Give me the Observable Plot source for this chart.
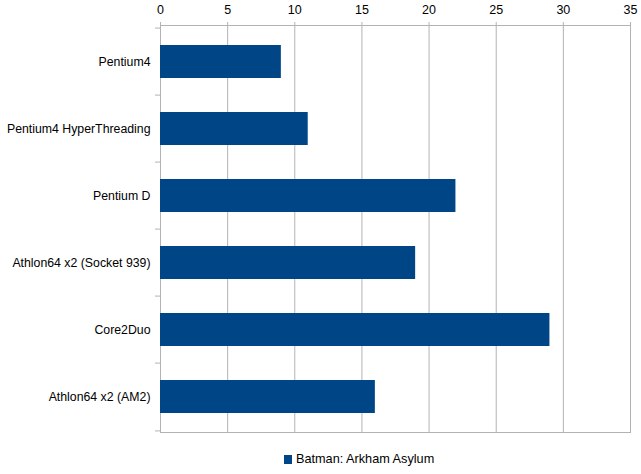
<!DOCTYPE html>
<html>
<head>
<meta charset="utf-8">
<script src="https://cdn.jsdelivr.net/npm/d3@7"></script>
<script src="https://cdn.jsdelivr.net/npm/@observablehq/plot@0.6"></script>
<style>
  body { margin: 0; background: #fff; font-family: "Liberation Sans", Arial, sans-serif; }
  #wrap { position: relative; width: 641px; height: 474px; }
  #legend { position: absolute; left: 284px; top: 452px; font-size: 12.7px; color: #000; display: flex; align-items: center; white-space: nowrap; }
  #legend .sw { width: 8px; height: 9px; background: #004586; margin-right: 4px; }
</style>
</head>
<body>
<div id="wrap"><div id="chart"></div><div id="legend"><span class="sw"></span><span>Batman: Arkham Asylum</span></div></div>
<script>
const categories = ["Pentium4", "Pentium4 HyperThreading", "Pentium D", "Athlon64 x2 (Socket 939)", "Core2Duo", "Athlon64 x2 (AM2)"];
const values = [9, 11, 22, 19, 29, 16];
const xTicks = [0, 5, 10, 15, 20, 25, 30, 35];
const seriesName = "Batman: Arkham Asylum";

const data = categories.map((c, i) => ({category: c, value: values[i]}));
const height = 440, marginTop = 25, marginBottom = 8;
const bw = (height - marginTop - marginBottom) / categories.length;
const gray = "#b3b3b3";

const chart = Plot.plot({
  width: 641,
  height,
  marginTop,
  marginBottom,
  marginLeft: 160,
  marginRight: 11,
  style: {fontFamily: "Liberation Sans, Arial, sans-serif", fontSize: "12px", color: "#000", background: "#fff"},
  x: {domain: [0, 35], axis: null},
  y: {domain: categories, padding: 0, axis: null},
  marks: [
    Plot.gridX(xTicks, {stroke: gray, strokeOpacity: 1, strokeWidth: 1}),
    Plot.axisX(xTicks, {anchor: "top", label: null, tickSize: 4, tickPadding: 8, stroke: gray, strokeOpacity: 1, fontSize: 12.5, fill: "#000", tickFormat: d => String(d)}),
    Plot.frame({anchor: "top", stroke: gray}),
    Plot.frame({anchor: "bottom", stroke: gray}),
    Plot.ruleX([0], {stroke: gray}),
    Plot.axisY({label: null, tickSize: 5, tickFormat: () => "", stroke: gray, strokeOpacity: 1, dy: -bw / 2}),
    Plot.axisY([categories[categories.length - 1]], {label: null, tickSize: 5, tickFormat: () => "", stroke: gray, strokeOpacity: 1, dy: bw / 2}),
    Plot.barX(data, {x: "value", y: "category", fill: "#004586", insetTop: 17, insetBottom: 17}),
    Plot.axisY({label: null, tickSize: 0, tickPadding: 10, fontSize: 12.3, fill: "#000"})
  ]
});
document.getElementById("chart").appendChild(chart);
</script>
</body>
</html>
